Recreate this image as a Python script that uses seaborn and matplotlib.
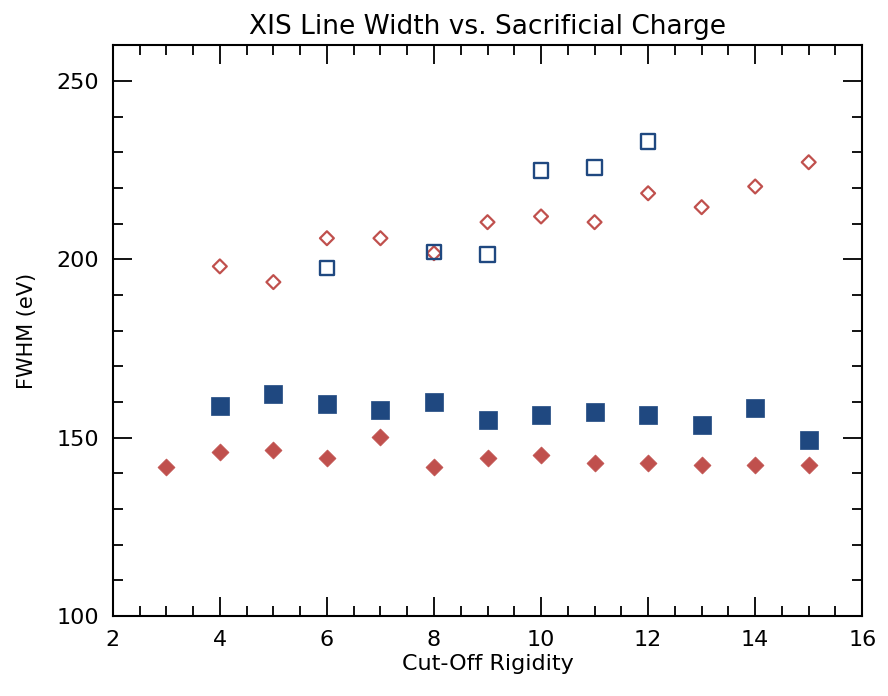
import numpy as np
import pandas as pd
import matplotlib
matplotlib.use("Agg")
import matplotlib.pyplot as plt
import seaborn as sns
from matplotlib.ticker import MultipleLocator

# values
x_red_filled = [3, 4, 5, 6, 7, 8, 9, 10, 11, 12, 13, 14, 15]
y_red_filled = [141.9, 146.1, 146.6, 144.4, 150.3, 141.9, 144.4, 145.0, 143.0, 143.0, 142.2, 142.2, 142.2]

x_blue_filled = [4, 5, 6, 7, 8, 9, 10, 11, 12, 13, 14, 15]
y_blue_filled = [159.0, 162.3, 159.5, 157.8, 160.0, 154.8, 156.4, 157.3, 156.4, 153.4, 158.4, 149.4]

x_red_open = [4, 5, 6, 7, 8, 9, 10, 11, 12, 13, 14, 15]
y_red_open = [198.0, 193.6, 205.9, 205.9, 201.7, 210.4, 212.0, 210.4, 218.5, 214.6, 220.4, 227.2]

x_blue_open = [6, 8, 9, 10, 11, 12]
y_blue_open = [197.5, 202.0, 201.4, 224.9, 225.7, 233.0]

blue = "#1f4880"
red = "#c0504d"

sns.set_style("ticks")
plt.rcParams['font.family'] = ['DejaVu Sans']
plt.rcParams['text.color'] = 'black'
plt.rcParams['axes.labelcolor'] = 'black'
plt.rcParams['xtick.color'] = 'black'
plt.rcParams['ytick.color'] = 'black'

fig = plt.figure(figsize=(8.88, 6.96), dpi=100)
ax = fig.add_axes([0.127, 0.115, 0.844, 0.820])

sns.scatterplot(x=x_red_filled, y=y_red_filled, marker="D", s=75, color=red,
                edgecolor=red, linewidth=0.5, ax=ax)
sns.scatterplot(x=x_blue_filled, y=y_blue_filled, marker="s", s=150, color=blue,
                edgecolor=blue, linewidth=0.5, ax=ax)
sns.scatterplot(x=x_red_open, y=y_red_open, marker="D", s=50, facecolor="none",
                edgecolor=red, linewidth=1.6, ax=ax)
sns.scatterplot(x=x_blue_open, y=y_blue_open, marker="s", s=110, facecolor="none",
                edgecolor=blue, linewidth=1.7, ax=ax)

ax.set_xlim(2, 16)
ax.set_ylim(100, 260)
ax.xaxis.set_major_locator(MultipleLocator(2))
ax.xaxis.set_minor_locator(MultipleLocator(0.5))
ax.yaxis.set_major_locator(MultipleLocator(50))
ax.yaxis.set_minor_locator(MultipleLocator(10))
ax.tick_params(which="both", direction="in", top=True, right=True, color="black",
               labelcolor="black", width=1.3)
ax.tick_params(which="major", length=14, labelsize=16, pad=10)
ax.tick_params(which="minor", length=7)
for sp in ax.spines.values():
    sp.set_linewidth(1.5)
    sp.set_color("black")

ax.set_xlabel("Cut-Off Rigidity", fontsize=16, labelpad=3, color="black")
ax.set_ylabel("FWHM (eV)", fontsize=15, labelpad=14, color="black")
ax.set_title("XIS Line Width vs. Sacrificial Charge", fontsize=19, pad=8, color="black")

fig.savefig("out.png", dpi=100)
